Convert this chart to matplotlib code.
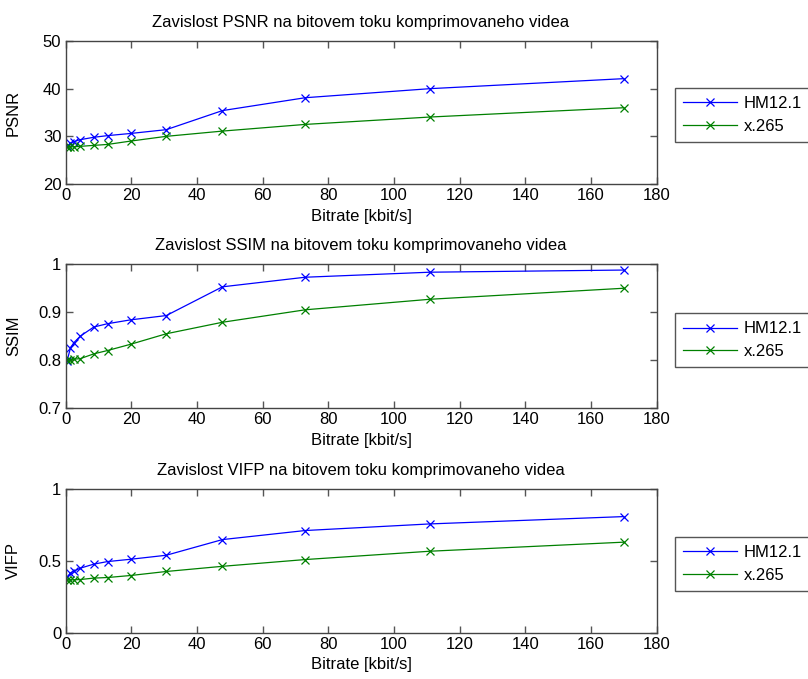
import matplotlib
matplotlib.use("Agg")
import matplotlib.pyplot as plt

plt.rcParams['font.family'] = ['Liberation Sans', 'DejaVu Sans']

bitrate = [0.5, 1.5, 2.5, 4.5, 8.6, 12.8, 19.8, 30.7, 47.8, 73, 111, 170]

psnr_hm = [28.0, 28.5, 28.9, 29.3, 29.8, 30.15, 30.6, 31.4, 35.4, 38.1, 40.0, 42.1]
psnr_x265 = [27.8, 27.8, 27.8, 27.9, 28.1, 28.3, 29.0, 30.0, 31.1, 32.5, 34.05, 36.0]

ssim_hm = [0.799, 0.825, 0.836, 0.850, 0.869, 0.876, 0.884, 0.893, 0.953, 0.973, 0.9835, 0.988]
ssim_x265 = [0.801, 0.801, 0.802, 0.803, 0.813, 0.820, 0.833, 0.855, 0.879, 0.905, 0.927, 0.950]

vifp_hm = [0.386, 0.415, 0.428, 0.449, 0.477, 0.495, 0.511, 0.539, 0.648, 0.711, 0.757, 0.808]
vifp_x265 = [0.368, 0.368, 0.368, 0.370, 0.380, 0.384, 0.398, 0.426, 0.462, 0.509, 0.567, 0.630]

labels = ['HM12.1', 'x.265']
xticks = [0, 20, 40, 60, 80, 100, 120, 140, 160, 180]

W, H = 808, 679
fig = plt.figure(figsize=(W / 100, H / 100), dpi=100)

panels = [
    (41, 184, psnr_hm, psnr_x265, (20, 50), [20, 30, 40, 50], ['20', '30', '40', '50'], 'PSNR',
     'Zavislost PSNR na bitovem toku komprimovaneho videa', 88),
    (264.3, 408, ssim_hm, ssim_x265, (0.7, 1.0), [0.7, 0.8, 0.9, 1.0], ['0.7', '0.8', '0.9', '1'], 'SSIM',
     'Zavislost SSIM na bitovem toku komprimovaneho videa', 313),
    (489, 632.7, vifp_hm, vifp_x265, (0, 1), [0, 0.5, 1], ['0', '0.5', '1'], 'VIFP',
     'Zavislost VIFP na bitovem toku komprimovaneho videa', 537),
]

left_px, right_px = 65.5, 656.5
for top, bot, hm, x265, ylim, yt, ytl, ylab, title, leg_top in panels:
    ax = fig.add_axes([left_px / W, 1 - bot / H, (right_px - left_px) / W, (bot - top) / H])
    l1, = ax.plot(bitrate, hm, color=(0, 0, 1), marker='x', markersize=6, linewidth=0.9,
                  markeredgewidth=0.9, label=labels[0])
    l2, = ax.plot(bitrate, x265, color=(0, 0.5, 0), marker='x', markersize=6, linewidth=0.9,
                  markeredgewidth=0.9, label=labels[1])
    ax.set_xlim(0, 180)
    ax.set_ylim(*ylim)
    ax.set_xticks(xticks)
    ax.set_yticks(yt)
    ax.set_yticklabels(ytl)
    ax.tick_params(direction='in', top=True, right=True, length=5, width=1,
                   color='#555555', labelsize=12, pad=3)
    for s in ax.spines.values():
        s.set_color('#444444')
        s.set_linewidth(1)
    ax.set_xlabel('Bitrate [kbit/s]', fontsize=12, labelpad=4)
    ax.set_ylabel(ylab, fontsize=12)
    ax.yaxis.set_label_coords((21 - left_px) / (right_px - left_px), 0.5)
    ax.set_title(title, fontsize=12, pad=10)
    fig.legend(handles=[l1, l2], loc='upper left',
               bbox_to_anchor=(675 / W, 1 - leg_top / H), fontsize=12,
               handlelength=3.2, handletextpad=0.4, borderpad=0.5, labelspacing=0.45,
               fancybox=False, edgecolor='#555555', framealpha=1, borderaxespad=0)

fig.savefig('out.png', dpi=100)
